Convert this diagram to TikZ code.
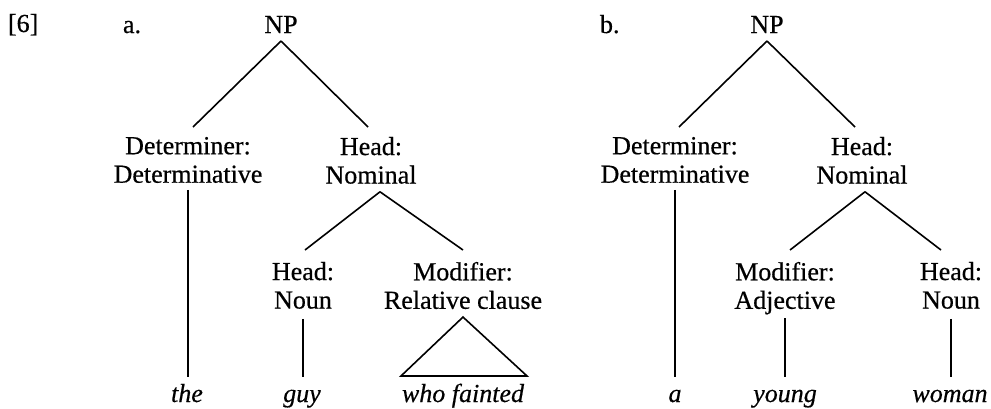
\documentclass[tikz,border=0pt]{standalone}
\usepackage{fontspec}
\setmainfont{Liberation Serif}[FakeBold=0.5, ItalicFeatures={FakeBold=0.5}]
\begin{document}
\begin{tikzpicture}[x=1pt,y=-1pt,
  every node/.style={inner sep=0pt, outer sep=0pt, font=\fontsize{26}{28.5}\selectfont},
  lab/.style={anchor=north, align=center},
  word/.style={anchor=base, font=\fontsize{26}{28.5}\selectfont\itshape, text height=20pt},
  branch/.style={line width=1.6pt},
]
\useasboundingbox (0,0) rectangle (991,408);
% tree a
\node[anchor=base west] (num) at (8,32) {[6]};
\node[anchor=base west] (la) at (123,33) {a.};
\node[anchor=base] (npa) at (281,33) {NP};
\node[lab] (deta) at (188,137) {Determiner:\\Determinative};
\node[lab] (hnoma) at (371,137) {Head:\\Nominal};
\node[lab] (nouna) at (303,262) {Head:\\Noun};
\node[lab] (moda) at (463,262) {Modifier:\\Relative clause};
\node[word] (the) at (187,402) {the};
\node[word] (guy) at (302,402) {guy};
\node[word] (who) at (463,402) {who fainted};
\draw[branch] ([yshift=-8pt]npa.south) -- ([xshift=5pt,yshift=10pt]deta.north);
\draw[branch] ([yshift=-8pt]npa.south) -- ([xshift=-3pt,yshift=10pt]hnoma.north);
\draw[branch] ([xshift=9pt,yshift=-8pt]hnoma.south) -- ([xshift=2pt,yshift=12pt]nouna.north);
\draw[branch] ([xshift=9pt,yshift=-8pt]hnoma.south) -- ([yshift=12pt]moda.north);
\draw[branch] ([yshift=-7pt]deta.south) -- ([yshift=5pt]deta.south |- the.north);
\draw[branch] ([yshift=-10pt]nouna.south) -- ([yshift=5pt]nouna.south |- guy.north);
\draw[branch, line join=miter] ([yshift=-8pt]moda.south) -- ([xshift=3pt,yshift=6pt]who.north east) -- ([xshift=-1pt,yshift=6pt]who.north west) -- cycle;
% tree b
\node[anchor=base west] (lb) at (600,33) {b.};
\node[anchor=base] (npb) at (767,33) {NP};
\node[lab] (detb) at (675,137) {Determiner:\\Determinative};
\node[lab] (hnomb) at (862,137) {Head:\\Nominal};
\node[lab] (modb) at (785,262) {Modifier:\\Adjective};
\node[lab] (nounb) at (951,262) {Head:\\Noun};
\node[word] (a) at (675,402) {a};
\node[word] (young) at (785,402) {young};
\node[word] (woman) at (950,402) {woman};
\draw[branch] ([yshift=-8pt]npb.south) -- ([xshift=4pt,yshift=10pt]detb.north);
\draw[branch] ([yshift=-8pt]npb.south) -- ([xshift=-7pt,yshift=10pt]hnomb.north);
\draw[branch] ([xshift=3pt,yshift=-8pt]hnomb.south) -- ([xshift=5pt,yshift=12pt]modb.north);
\draw[branch] ([xshift=3pt,yshift=-8pt]hnomb.south) -- ([xshift=-10pt,yshift=12pt]nounb.north);
\draw[branch] ([yshift=-7pt]detb.south) -- ([yshift=5pt]detb.south |- a.north);
\draw[branch] ([yshift=-4pt]modb.south) -- ([yshift=5pt]modb.south |- young.north);
\draw[branch] ([yshift=-10pt]nounb.south) -- ([yshift=5pt]nounb.south |- woman.north);
\end{tikzpicture}
\end{document}
